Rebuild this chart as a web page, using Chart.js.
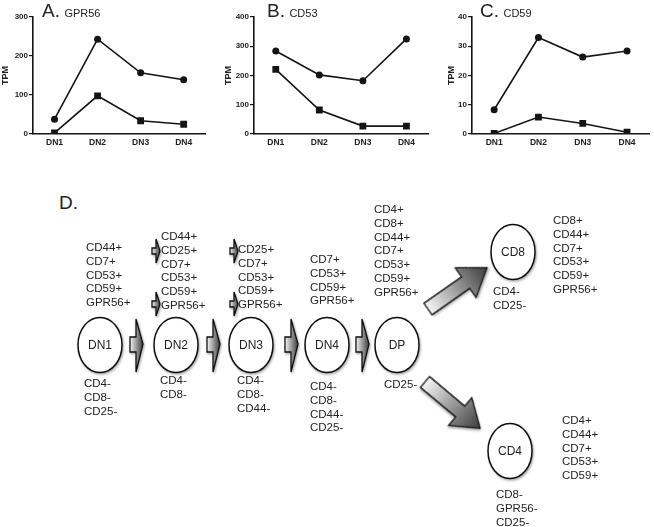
<!DOCTYPE html>
<html>
<head>
<meta charset="utf-8">
<script src="https://cdn.jsdelivr.net/npm/chart.js@4"></script>
<style>
  body { margin: 0; background: #fff; font-family: "Liberation Sans", Arial, sans-serif; color: #222; }
  #page { position: relative; width: 654px; height: 527px; overflow: hidden; }
  canvas { position: absolute; top: 0; }
  .panel { position: absolute; white-space: nowrap; line-height: 1; }
  .panel b { font-weight: normal; font-size: 19px; }
  .panel span { font-size: 11px; }
  .list { position: absolute; font-size: 11.5px; line-height: 13.8px; white-space: nowrap; }
  .cell { position: absolute; font-size: 12px; text-align: center; width: 46px; }
  svg { position: absolute; left: 0; top: 0; }
</style>
</head>
<body>
<div id="page">
  <canvas id="chartA" width="210" height="160" style="left:0px"></canvas>
  <canvas id="chartB" width="210" height="160" style="left:223px"></canvas>
  <canvas id="chartC" width="208" height="160" style="left:446px"></canvas>

  <div class="panel" style="left:42px;top:1px"><b>A.</b> <span>GPR56</span></div>
  <div class="panel" style="left:267px;top:1px"><b>B.</b> <span>CD53</span></div>
  <div class="panel" style="left:480px;top:1px"><b>C.</b> <span>CD59</span></div>
  <div class="panel" style="left:59px;top:193px"><b>D.</b></div>

  <svg id="diagram" width="654" height="527"></svg>
  <div id="labels"></div>
</div>

<script>
const stages = ["DN1", "DN2", "DN3", "DN4"];

const gpr56Circle = [38, 243, 157, 139];
const gpr56Square = [3, 98, 34, 25];
const cd53Circle = [284, 202, 182, 325];
const cd53Square = [221, 82, 27, 27];
const cd59Circle = [8.3, 33, 26.3, 28.4];
const cd59Square = [0.2, 5.8, 3.6, 0.6];

const gpr56Max = 300, gpr56Step = 100;
const cd53Max = 400, cd53Step = 100;
const cd59Max = 40, cd59Step = 10;

const fontFamily = "'Liberation Sans', Arial, sans-serif";

function makeChart(id, circles, squares, yMax, yStep, axisWidth) {
  const line = {
    borderColor: "#141414",
    backgroundColor: "#141414",
    borderWidth: 1.6,
    pointBorderWidth: 0
  };
  return new Chart(document.getElementById(id), {
    type: "line",
    data: {
      labels: stages,
      datasets: [
        { ...line, data: circles, pointStyle: "circle", pointRadius: 3.5 },
        { ...line, data: squares, pointStyle: "rect", pointRadius: 4.8 }
      ]
    },
    options: {
      responsive: false,
      animation: false,
      devicePixelRatio: 1,
      layout: { padding: { top: 17, right: 0, left: 0, bottom: 0 } },
      plugins: { legend: { display: false }, tooltip: { enabled: false } },
      scales: {
        x: {
          type: "category",
          offset: true,
          grid: { display: false, drawTicks: false },
          border: { display: true, color: "#141414", width: 1.6 },
          ticks: { color: "#222", padding: 4, font: { family: fontFamily, size: 8.5, weight: "bold" } },
          afterFit: (scale) => { scale.height = 26; }
        },
        y: {
          min: 0,
          max: yMax,
          grid: { display: true, drawOnChartArea: false, drawTicks: true, tickLength: 4, color: "#141414", lineWidth: 1.2 },
          border: { display: true, color: "#141414", width: 1.6 },
          ticks: { stepSize: yStep, color: "#222", padding: 1, font: { family: fontFamily, size: 8, weight: "bold" } },
          title: { display: true, text: "TPM", color: "#222", padding: 0, font: { family: fontFamily, size: 9, weight: "bold" } },
          afterFit: (scale) => { scale.width = axisWidth; }
        }
      }
    }
  });
}

makeChart("chartA", gpr56Circle, gpr56Square, gpr56Max, gpr56Step, 33);
makeChart("chartB", cd53Circle, cd53Square, cd53Max, cd53Step, 31);
makeChart("chartC", cd59Circle, cd59Square, cd59Max, cd59Step, 26);

// --- panel D: differentiation diagram ---
const cells = [
  ["DN1", 100, 345], ["DN2", 176, 345], ["DN3", 251, 345], ["DN4", 327, 345],
  ["DP", 397, 345], ["CD8", 513, 252], ["CD4", 510, 451]
];

const markerLists = [
  [86, 241, ["CD44+", "CD7+", "CD53+", "CD59+", "GPR56+"]],
  [84, 377, ["CD4-", "CD8-", "CD25-"]],
  [161, 230, ["CD44+", "CD25+", "CD7+", "CD53+", "CD59+", "GPR56+"]],
  [160, 374, ["CD4-", "CD8-"]],
  [238, 243, ["CD25+", "CD7+", "CD53+", "CD59+", "GPR56+"]],
  [237, 374, ["CD4-", "CD8-", "CD44-"]],
  [310, 253, ["CD7+", "CD53+", "CD59+", "GPR56+"]],
  [310, 380, ["CD4-", "CD8-", "CD44-", "CD25-"]],
  [374, 203, ["CD4+", "CD8+", "CD44+", "CD7+", "CD53+", "CD59+", "GPR56+"]],
  [384, 378, ["CD25-"]],
  [553, 214, ["CD8+", "CD44+", "CD7+", "CD53+", "CD59+", "GPR56+"]],
  [493, 285, ["CD4-", "CD25-"]],
  [562, 414, ["CD4+", "CD44+", "CD7+", "CD53+", "CD59+"]],
  [496, 488, ["CD8-", "GPR56-", "CD25-"]]
];

const stepArrows = [130, 207, 285, 356];
const smallArrows = [[152, 251], [152, 304], [230, 251], [230, 304]];
const bigArrows = [[428, 309, -35], [425, 382, 40]];

const svg = document.getElementById("diagram");
const ns = "http://www.w3.org/2000/svg";
svg.innerHTML = `
  <defs>
    <linearGradient id="gh" x1="0" y1="0" x2="1" y2="0">
      <stop offset="0" stop-color="#f4f4f4"/><stop offset="1" stop-color="#3c3c3c"/>
    </linearGradient>
    <filter id="sh" x="-30%" y="-30%" width="160%" height="160%">
      <feDropShadow dx="1" dy="1.5" stdDeviation="1.2" flood-color="#000" flood-opacity="0.35"/>
    </filter>
  </defs>`;

function addPolygon(points, transform) {
  const p = document.createElementNS(ns, "polygon");
  p.setAttribute("points", points.map((pt) => pt.join(",")).join(" "));
  p.setAttribute("fill", "url(#gh)");
  p.setAttribute("stroke", "#111");
  p.setAttribute("stroke-width", "1.3");
  p.setAttribute("stroke-linejoin", "miter");
  p.setAttribute("filter", "url(#sh)");
  if (transform) p.setAttribute("transform", transform);
  svg.appendChild(p);
}

stepArrows.forEach((x) => {
  addPolygon([[x, 337], [x + 6, 337], [x + 6, 319], [x + 13, 344], [x + 6, 372], [x + 6, 352], [x, 352]]);
});

smallArrows.forEach(([x, y]) => {
  addPolygon([[x, y - 3], [x + 4, y - 3], [x + 4, y - 12], [x + 8, y], [x + 4, y + 12], [x + 4, y + 3], [x, y + 3]]);
});

bigArrows.forEach(([x, y, angle]) => {
  addPolygon([[0, -7], [46, -7], [46, -18], [72, 0], [46, 18], [46, 7], [0, 7]],
    `translate(${x},${y}) rotate(${angle})`);
});

cells.forEach(([name, cx, cy]) => {
  const e = document.createElementNS(ns, "ellipse");
  e.setAttribute("cx", cx);
  e.setAttribute("cy", cy);
  e.setAttribute("rx", 22);
  e.setAttribute("ry", 27.5);
  e.setAttribute("fill", "#fff");
  e.setAttribute("stroke", "#111");
  e.setAttribute("stroke-width", "1.5");
  e.setAttribute("filter", "url(#sh)");
  svg.appendChild(e);
});

const labels = document.getElementById("labels");
cells.forEach(([name, cx, cy]) => {
  const div = document.createElement("div");
  div.className = "cell";
  div.style.left = `${cx - 23}px`;
  div.style.top = `${cy - 7}px`;
  div.textContent = name;
  labels.appendChild(div);
});

markerLists.forEach(([x, y, items]) => {
  const div = document.createElement("div");
  div.className = "list";
  div.style.left = `${x}px`;
  div.style.top = `${y}px`;
  div.innerHTML = items.join("<br>");
  labels.appendChild(div);
});
</script>
</body>
</html>
